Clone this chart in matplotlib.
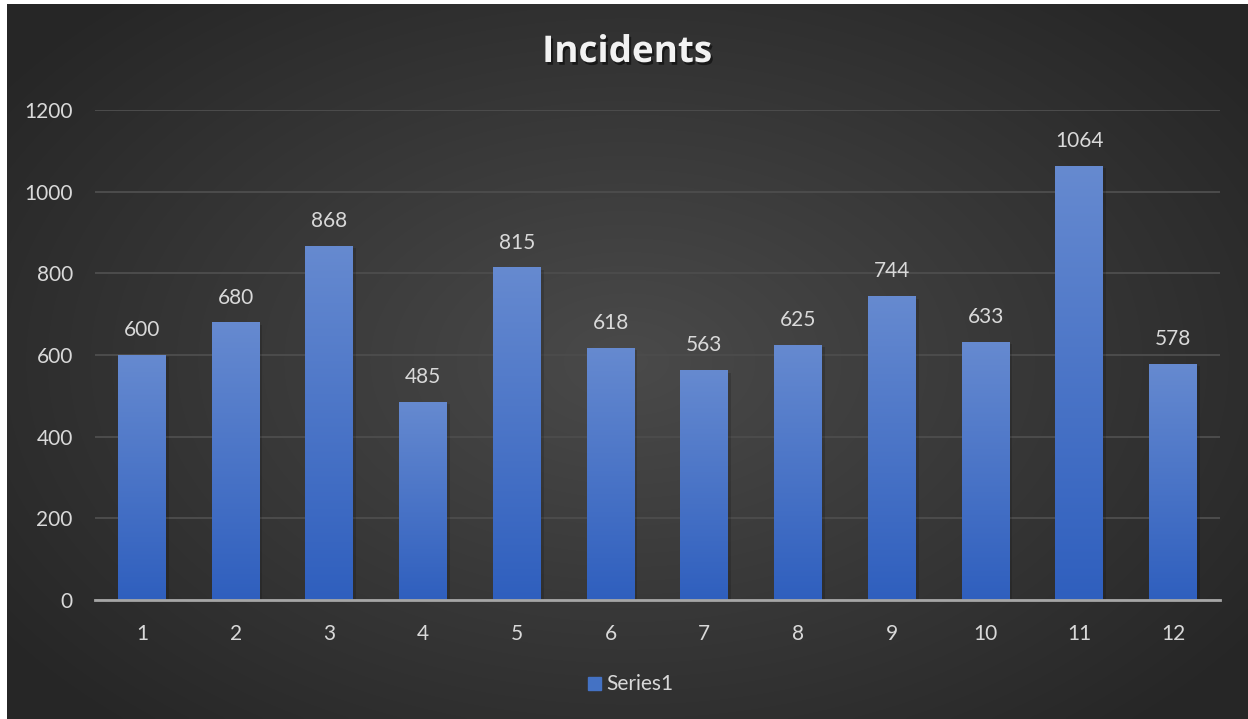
import numpy as np
import matplotlib
import matplotlib.pyplot as plt
import matplotlib.patheffects as pe
from matplotlib.patches import Rectangle

matplotlib.use('Agg')

months = ['1', '2', '3', '4', '5', '6', '7', '8', '9', '10', '11', '12']
incidents = [600, 680, 868, 485, 815, 618, 563, 625, 744, 633, 1064, 578]
yticks = [0, 200, 400, 600, 800, 1000, 1200]

plt.rcParams['font.family'] = ['Lato', 'DejaVu Sans']

W, H = 1248, 719
fig = plt.figure(figsize=(W / 100, H / 100), dpi=100)
fig.patch.set_facecolor('white')

# dark radial background (leaves a thin white strip left/top like the screenshot)
bg = fig.add_axes([7 / W, 0, 1 - 7 / W, 1 - 4 / H])
bg.set_axis_off()
yy, xx = np.mgrid[0:1:300j, 0:1:500j]
r = np.sqrt(((xx - 0.5) * 1.0) ** 2 + ((yy - 0.5) * 0.9) ** 2)
r = np.clip(r / 0.62, 0, 1)
shade = 0.29 - 0.14 * r
img = np.dstack([shade, shade, shade])
bg.imshow(img, aspect='auto', extent=[0, 1, 0, 1], interpolation='bicubic')
bg.set_xlim(0, 1)
bg.set_ylim(0, 1)

ax = fig.add_axes([95 / W, 1 - 600 / H, 1125 / W, 490 / H])
ax.patch.set_alpha(0)
x = np.arange(len(months))
bars = ax.bar(x, incidents, width=0.51, color='none', zorder=3)

# vertical gradient inside each bar
grad = np.linspace(0, 1, 256).reshape(-1, 1)
top_c = np.array([0x66, 0x8a, 0xd0]) / 255
bot_c = np.array([0x2f, 0x5f, 0xbe]) / 255
gimg = bot_c + (top_c - bot_c) * grad[..., None]
for b in bars:
    bx, bw, bh = b.get_x(), b.get_width(), b.get_height()
    sh = Rectangle((bx + 0.03, 0), bw, bh - 6, color='black', alpha=0.15, zorder=2, lw=0)
    ax.add_patch(sh)
    im = ax.imshow(gimg, extent=[bx, bx + bw, 0, bh], origin='lower',
                   aspect='auto', zorder=3)
    im.set_clip_path(b)

for xi, v in zip(x, incidents):
    ax.text(xi, v + 36, str(v), ha='center', va='bottom', fontsize=15, color='#d9d9d9')

ax.set_xlim(-0.5, len(months) - 0.5)
ax.set_ylim(0, 1200)
ax.set_yticks(yticks)
ax.set_xticks(x)
ax.set_xticklabels(months)
ax.tick_params(axis='both', length=0, labelsize=15, colors='#d9d9d9')
ax.tick_params(axis='x', pad=17)
ax.tick_params(axis='y', pad=16)
ax.grid(axis='y', color='#4c4c4c', linewidth=1.4, zorder=0)
for s in ['top', 'right', 'left']:
    ax.spines[s].set_visible(False)
ax.spines['bottom'].set_color('#a6a6a6')
ax.spines['bottom'].set_linewidth(2)
ax.spines['bottom'].set_zorder(4)

fig.text(627 / W, 1 - 52 / H, 'Incidents', ha='center', va='center',
         fontsize=26.5, fontweight='bold', color='#f2f2f2', family=['Open Sans', 'DejaVu Sans'],
         path_effects=[pe.withSimplePatchShadow(offset=(1.5, -2), alpha=0.5, shadow_rgbFace='black')])

# legend
fig.patches.append(Rectangle((588 / W, 1 - 690 / H), 13 / W, 13 / H,
                             transform=fig.transFigure, color='#4472c4'))
fig.text(606 / W, 1 - 684 / H, 'Series1', ha='left', va='center',
         fontsize=15, color='#d9d9d9')

fig.savefig('out.png', dpi=100, facecolor=fig.get_facecolor())
